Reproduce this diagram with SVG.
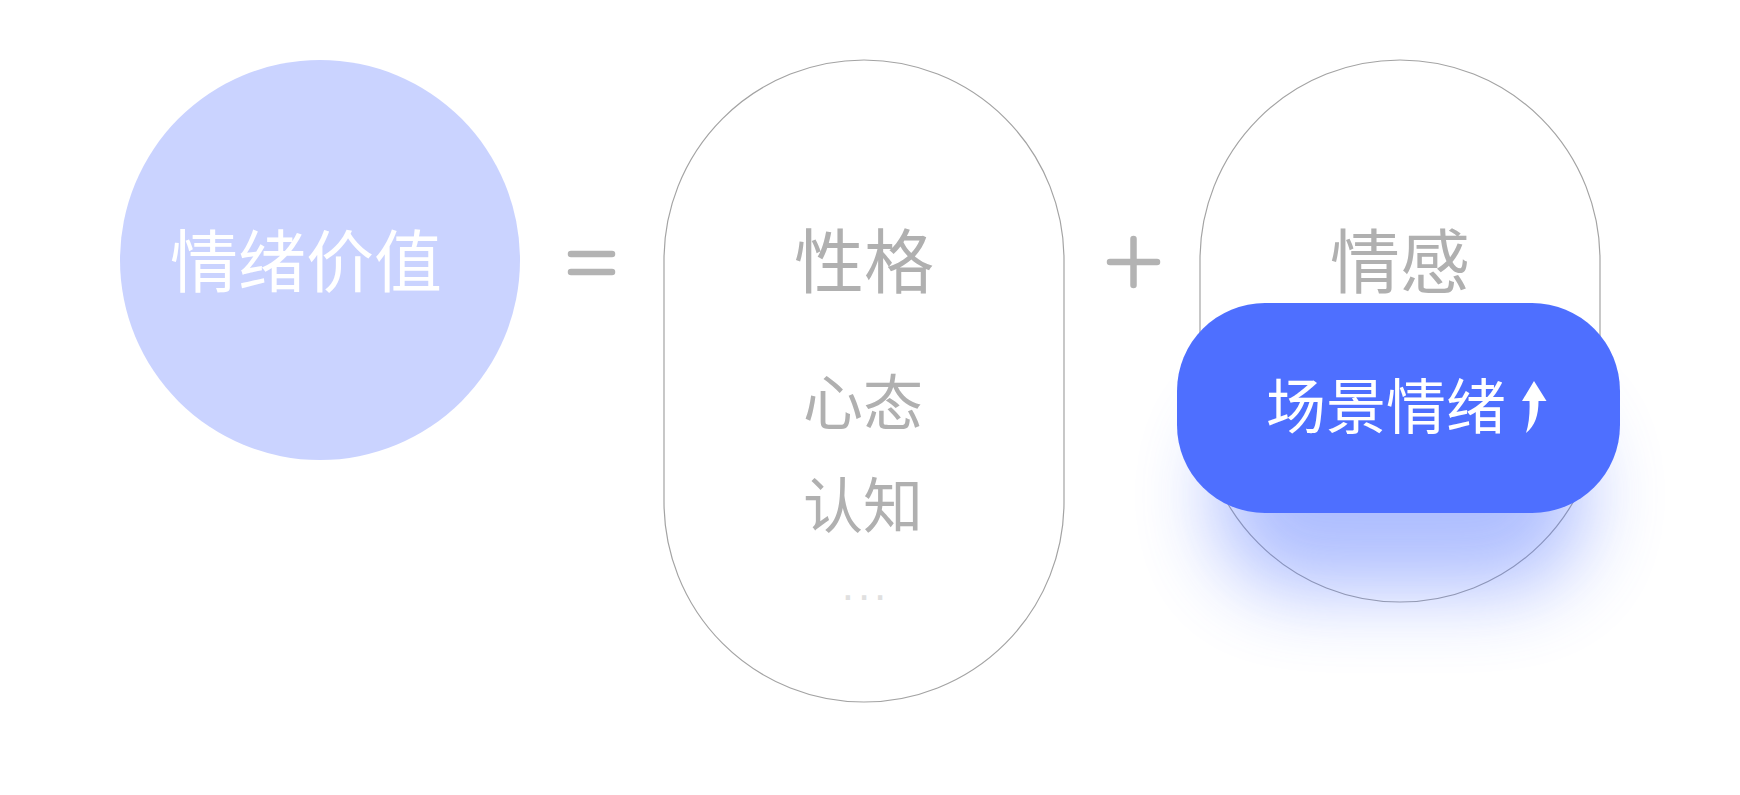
<svg xmlns="http://www.w3.org/2000/svg" width="1740" height="795" viewBox="0 0 1740 795">
  <style>
    .lbl { font-family: "Noto Sans CJK SC", "Noto Sans", sans-serif; font-weight: 400; text-anchor: middle; }
    .grey { fill: #B0B0B0; }
    .pill { fill: none; stroke: #A3A3A3; stroke-width: 1.2; }
    .op { stroke: #B3B3B3; stroke-width: 6.5; stroke-linecap: round; fill: none; }
  </style>
  <defs>
    <filter id="blur" x="-60%" y="-90%" width="220%" height="280%">
      <feGaussianBlur stdDeviation="40"/>
    </filter>
  </defs>
  <rect width="1740" height="795" fill="#FFFFFF"/>

  <g id="emotion-value">
    <circle cx="320" cy="260" r="200" fill="#CAD3FF"/>
    <text class="lbl" x="306" y="287" font-size="68" font-weight="350" fill="#FFFFFF">情绪价值</text>
  </g>

  <g id="operators">
    <line class="op" x1="571" y1="254" x2="612" y2="254"/>
    <line class="op" x1="571" y1="272" x2="612" y2="272"/>
    <line class="op" x1="1110" y1="262" x2="1157" y2="262"/>
    <line class="op" x1="1133.5" y1="239" x2="1133.5" y2="285"/>
  </g>

  <g id="personality">
    <rect class="pill" x="664" y="60" width="400" height="642" rx="200" ry="200"/>
    <text class="lbl grey" x="864" y="288" font-size="70">性格</text>
    <text class="lbl grey" x="863" y="425" font-size="60">心态</text>
    <text class="lbl grey" x="863" y="528" font-size="60">认知</text>
    <text x="866" y="600" font-family="Liberation Sans, Arial, sans-serif" font-size="44" letter-spacing="4" text-anchor="middle" fill="#E0E0E0">...</text>
  </g>

  <g id="emotion">
    <rect class="pill" x="1200" y="60" width="400" height="542" rx="200" ry="200"/>
    <text class="lbl grey" x="1400" y="288" font-size="70">情感</text>
  </g>

  <g id="scene-emotion">
    <rect x="1215" y="400" width="370" height="190" rx="85" fill="#4E6FFF" opacity="0.45" filter="url(#blur)"/>
    <rect x="1177" y="303" width="443" height="210" rx="88" ry="88" fill="#4E6FFF"/>
    <text x="1266" y="429" font-family="Noto Sans CJK SC, Noto Sans, sans-serif" font-size="60" font-weight="400" fill="#FFFFFF">场景情绪</text>
    <path d="M1534 381 L1546.5 401 L1538.5 401 C1538.5 415 1535 426 1526 433 C1529 424 1530 412 1529.5 401 L1522 401 Z" fill="#FFFFFF"/>
  </g>

  <g id="connectors"></g>
</svg>
